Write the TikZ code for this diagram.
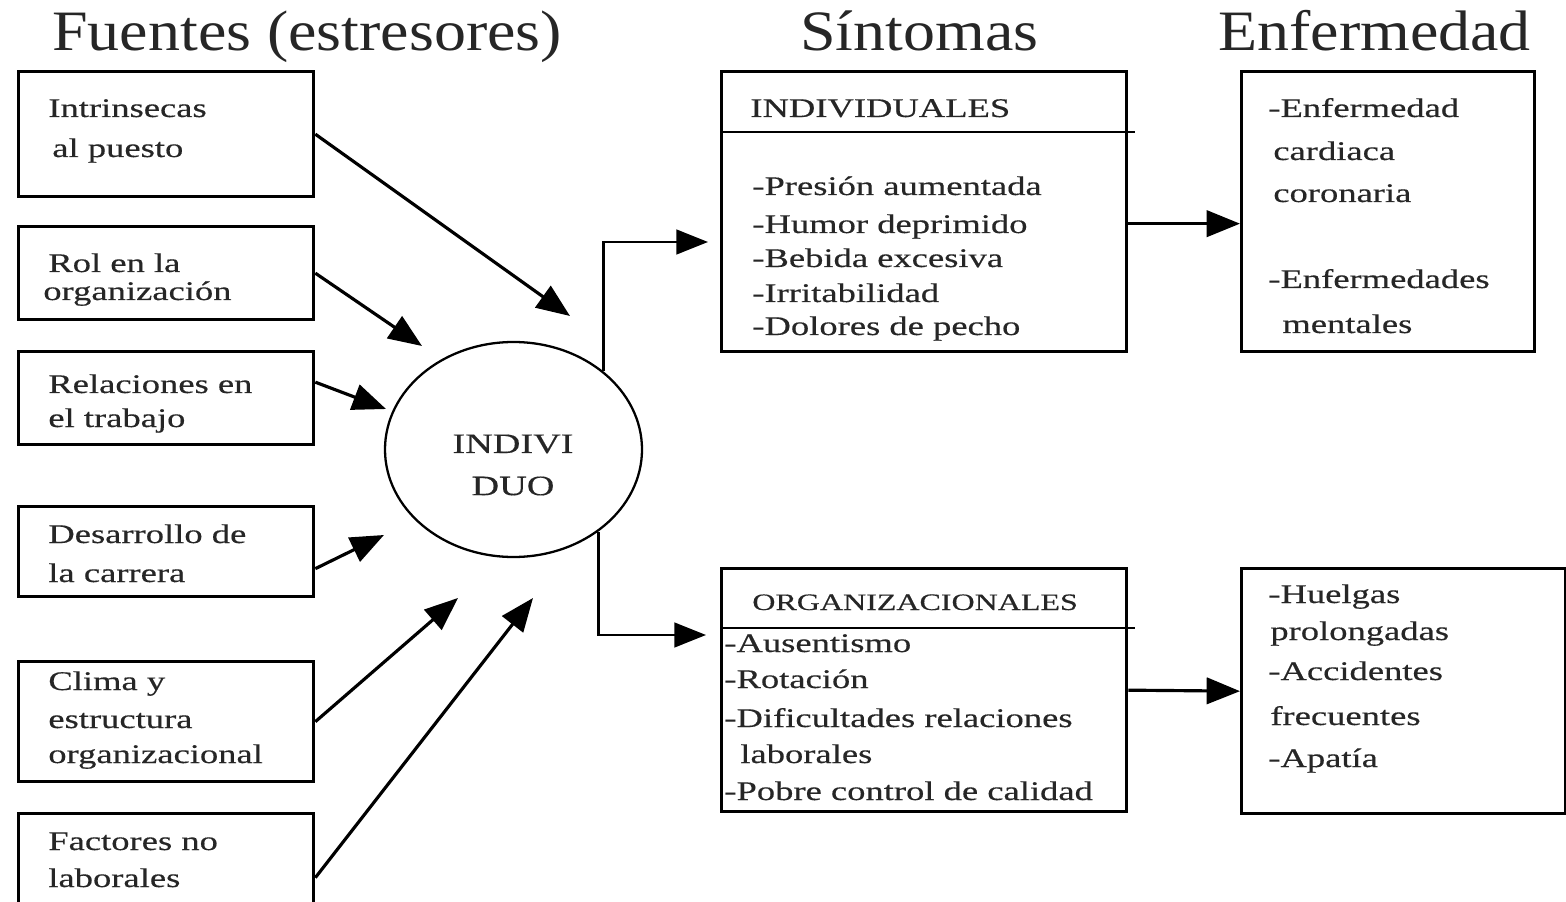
\documentclass[tikz,border=0pt]{standalone}
\usepackage{fontspec}
\setmainfont{Liberation Serif}
\newfontfamily\titlef[FakeStretch=1.12]{Liberation Serif}
\newfontfamily\bodyf[FakeStretch=1.36,FakeBold=0.4]{Liberation Serif}
\usetikzlibrary{shapes.geometric,arrows.meta,calc}
\newcommand\pxu{0.02cm}
\tikzset{
  box/.style={draw, line width=1.9pt, inner sep=0pt, anchor=north west},
  txt/.style={anchor=base west, inner sep=0pt, text=black!85, font=\bodyf\fontsize{15.3}{18}\selectfont},
  hdr/.style={anchor=base west, inner sep=0pt, text=black!85, font=\titlef\fontsize{32.5}{38}\selectfont},
  arr/.style={line width=1.8pt, -{Triangle[length=19pt,width=15pt]}},
  arrb/.style={line width=1.5pt, -{Triangle[length=18pt,width=14pt]}},
  divider/.style={line width=1.6pt}
}
\begin{document}
\begin{tikzpicture}[x=0.02cm, y=-0.02cm]
\useasboundingbox (0,0) rectangle (1566,902);
\fill[white] (0,0) rectangle (1566,902);
\clip (0,0) rectangle (1566,902);

% titles
\node[hdr] (h1) at (52,51) {Fuentes (estresores)};
\node[hdr] (h2) at (800,51) {Síntomas};
\node[hdr] (h3) at (1218,51) {Enfermedad};

% left boxes
\node[box, minimum width={295*\pxu}, minimum height={125*\pxu}] (f1) at (17,70) {};
\node[box, minimum width={295*\pxu}, minimum height={93*\pxu}] (f2) at (17,225) {};
\node[box, minimum width={295*\pxu}, minimum height={93*\pxu}] (f3) at (17,350) {};
\node[box, minimum width={295*\pxu}, minimum height={90*\pxu}] (f4) at (17,505) {};
\node[box, minimum width={295*\pxu}, minimum height={120*\pxu}] (f5) at (17,660) {};
\node[box, minimum width={295*\pxu}, minimum height={128*\pxu}] (f6) at (17,812) {};

\node[txt] (f1a) at (48,117) {Intrinsecas};
\node[txt] (f1b) at (52,157) {al puesto};
\node[txt] (f2a) at (48,272) {Rol en la};
\node[txt] (f2b) at (43,300) {organización};
\node[txt] (f3a) at (48,393) {Relaciones en};
\node[txt] (f3b) at (48,427) {el trabajo};
\node[txt] (f4a) at (48,543) {Desarrollo de};
\node[txt] (f4b) at (48,582) {la carrera};
\node[txt] (f5a) at (48,690) {Clima y};
\node[txt] (f5b) at (48,728) {estructura};
\node[txt] (f5c) at (48,763) {organizacional};
\node[txt] (f6a) at (48,850) {Factores no};
\node[txt] (f6b) at (48,887) {laborales};

% individual
\node[draw, ellipse, line width=1.3pt, inner sep=0pt, minimum width={257*\pxu}, minimum height={215*\pxu}] (ind) at (513.5,449.5) {};
\node[inner sep=0pt, align=center, text=black!85, font=\bodyf\fontsize{16}{24}\selectfont] (indt) at (513,465) {INDIVI\\DUO};

% free ends of the incoming arrows
\coordinate (t1) at (570,316);
\coordinate (t2) at (422,346);
\coordinate (t3) at (386,409);
\coordinate (t4) at (384,535);
\coordinate (t5) at (458,598);
\coordinate (t6) at (533,598);

\draw[arr] (f1.east) -- (t1);
\draw[arr] (f2.east) -- (t2);
\draw[arr] (f3.east) ++(0,-16) -- (t3);
\draw[arr] (f4.east) ++(0,17) -- (t4);
\draw[arr] (f5.east) -- (t5);
\draw[arr] (f6.east) -- (t6);

% symptom boxes
\node[box, minimum width={405*\pxu}, minimum height={280*\pxu}] (si) at (720,70) {};
\node[box, minimum width={405*\pxu}, minimum height={243*\pxu}] (so) at (720,567) {};
\draw[divider] ($(si.north west)+(0,62)$) -- ($(si.north east)+(7,62)$);
\draw[divider] ($(so.north west)+(0,61)$) -- ($(so.north east)+(7,61)$);

\node[txt] (sih) at (750,117) {INDIVIDUALES};
\node[txt] (si1) at (752,195) {-Presión aumentada};
\node[txt] (si2) at (752,233) {-Humor deprimido};
\node[txt] (si3) at (752,267) {-Bebida excesiva};
\node[txt] (si4) at (752,302) {-Irritabilidad};
\node[txt] (si5) at (752,335) {-Dolores de pecho};

\node[txt, font=\bodyf\fontsize{13.4}{16}\selectfont] (soh) at (752,610) {ORGANIZACIONALES};
\node[txt] (so1) at (724,652) {-Ausentismo};
\node[txt] (so2) at (724,688) {-Rotación};
\node[txt] (so3) at (724,727) {-Dificultades relaciones};
\node[txt] (so4) at (740,763) {laborales};
\node[txt] (so5) at (724,800) {-Pobre control de calidad};

% outgoing from individual
\coordinate (o1) at (708,242);
\coordinate (o2) at (706,635);
\draw[arrb] (ind.41.4) |- (o1);
\draw[arrb] (ind.-44.4) |- (o2);

% disease boxes
\node[box, minimum width={293*\pxu}, minimum height={280*\pxu}] (ei) at (1240,70) {};
\node[box, minimum width={324*\pxu}, minimum height={245*\pxu}] (eo) at (1240,567) {};

\node[txt] (ei1) at (1268,117) {-Enfermedad};
\node[txt] (ei2) at (1273,160) {cardiaca};
\node[txt] (ei3) at (1273,202) {coronaria};
\node[txt] (ei4) at (1268,288) {-Enfermedades};
\node[txt] (ei5) at (1282,333) {mentales};

\node[txt] (eo1) at (1268,603) {-Huelgas};
\node[txt] (eo2) at (1270,640) {prolongadas};
\node[txt] (eo3) at (1268,680) {-Accidentes};
\node[txt] (eo4) at (1270,725) {frecuentes};
\node[txt] (eo5) at (1268,767) {-Apatía};

\draw[arr] ([yshift=-0.24cm]si.east) -- ([yshift=-0.24cm]ei.west);
\draw[arr] (so.east) -- (eo.west);
\end{tikzpicture}
\end{document}
